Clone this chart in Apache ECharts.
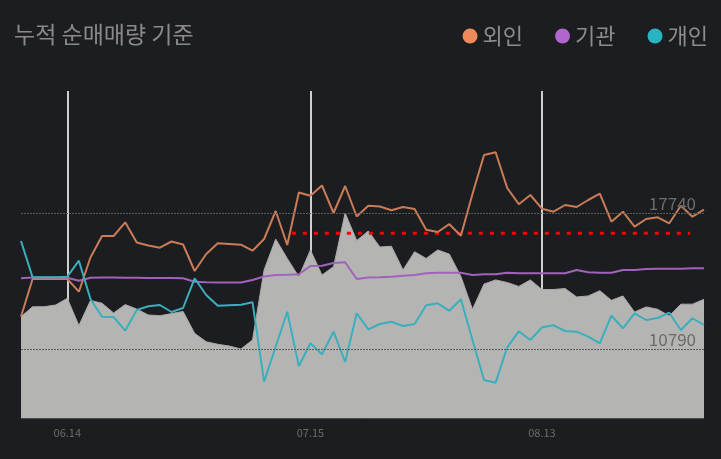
<!DOCTYPE html>
<html>
<head>
<meta charset="utf-8">
<style>
html,body{margin:0;padding:0;background:#1c1d21;}
#chart{width:721px;height:459px;}
</style>
<script src="https://cdn.jsdelivr.net/npm/echarts@6/dist/echarts.min.js"></script>
</head>
<body>
<div id="chart"></div>
<script>
// categories (trading days)
const dates = ['06.10','06.11','06.12','06.13','06.14','06.17','06.18','06.19','06.20','06.21',
  '06.24','06.25','06.26','06.27','06.28','07.01','07.02','07.03','07.04','07.05',
  '07.08','07.09','07.10','07.11','07.12','07.15','07.16','07.17','07.18','07.19',
  '07.22','07.23','07.24','07.25','07.26','07.29','07.30','07.31','08.01','08.02',
  '08.05','08.06','08.07','08.08','08.09','08.13','08.14','08.16','08.19','08.20',
  '08.21','08.22','08.23','08.26','08.27','08.28','08.29','08.30','09.02','09.03'];
const labelDates = ['06.14','07.15','08.13'];

// stock price (gray area)
const price = [12440,12950,12950,13040,13380,11990,13270,13130,12630,13060,
  12830,12530,12490,12600,12710,11590,11160,11030,10940,10790,
  11250,14830,16410,15420,14480,15850,14570,15000,17740,16330,
  16820,16000,16040,14830,15760,15420,15850,15640,14500,12820,
  14110,14320,14190,13990,14320,13830,13830,13880,13450,13500,
  13770,13280,13500,12680,12940,12820,12480,13080,13080,13330];

// cumulative net buying
const foreign = [101.3,139,139,139,139,126.3,160.5,182,182,195.7,
  175.5,172.5,170.3,176.5,173.5,147,164,174.7,174,173.3,
  167.3,179,207,173,225.5,222.3,232.5,205,232,201.5,
  212.3,211.5,207.7,211,209,188.3,186,193.8,182.3,224,
  263,265.7,230,213.8,223,209.3,206.3,213,211,218,
  224.3,196.3,206.3,191.3,199,200.7,194.7,212.3,201.3,208.3];
const institution = [139.7,140.5,140.5,140.5,140.3,137.3,140.3,140.5,140.5,140.3,
  140.3,140,140,140,139.7,136.3,135.7,135.5,135.5,135.5,
  138,141.5,143,143.2,143.7,152,152.3,155,155.7,139,
  140.5,140.7,141.3,142.3,143,144.7,145.3,145.3,145.3,143,
  143.7,143.7,145.3,144.7,144.7,144.7,144.7,144.7,148,145.7,
  145.3,145.3,148,148,149,149.3,149.3,149.3,149.7,149.7];
const individual = [177,140.7,140.7,140.7,141.3,157.3,119,101.3,101,87.3,
  108,111.7,113,106,110,139.7,123,112.2,112.8,113.3,
  115.7,36.3,71.3,106.3,52,74.7,63.7,86.3,56,104.7,
  88.7,94,96.3,92,94,112.7,114.7,107.2,118.7,78,
  38,35.3,70.7,86.7,78,90.7,92.7,87,86.3,81.3,
  74.7,102.3,89.7,104.7,98,100,105.3,88,99.7,93];

// red dotted reference level
const refLevel = 16700;
const refRange = [23.4, 57.8];

const chart = echarts.init(document.getElementById('chart'));
const font = "'Noto Sans CJK KR', 'Noto Sans', sans-serif";
const showIdx = (i, v) => labelDates.indexOf(v) >= 0;

chart.setOption({
  backgroundColor: '#1c1d21',
  animation: false,
  title: {
    text: '누적 순매매량 기준', left: 9, top: 18,
    textStyle: {color: '#8a8a8a', fontSize: 23, fontWeight: 'normal', fontFamily: font}
  },
  legend: {
    data: ['외인','기관','개인'], right: 8, top: 20, icon: 'circle',
    itemWidth: 15, itemHeight: 15, itemGap: 32,
    textStyle: {color: '#8c8c8c', fontSize: 22, fontFamily: font}
  },
  grid: {left: 21, right: 17, top: 91, bottom: 41},
  xAxis: [{
    type: 'category', data: dates, boundaryGap: false,
    axisLine: {show: true, lineStyle: {color: '#4a4b4c', width: 1}},
    axisTick: {show: false},
    axisLabel: {interval: showIdx, color: '#6c6c6c', fontSize: 11, margin: 9, fontFamily: font},
    splitLine: {show: true, interval: showIdx, lineStyle: {color: '#cfcfcf', width: 2}}
  }, {
    type: 'value', min: 0, max: dates.length - 1, show: false
  }],
  yAxis: [{
    type: 'value', min: 7264, max: 23974, show: false, splitLine: {show: false}
  }, {
    type: 'value', min: 0, max: 327, show: false, splitLine: {show: false}
  }],
  series: [{
    name: '주가', type: 'line', data: price, yAxisIndex: 0, xAxisIndex: 0,
    symbol: 'none', z: 1,
    lineStyle: {color: '#a9aaa8', width: 1},
    areaStyle: {color: '#b4b5b3', opacity: 1},
    markLine: {
      silent: true, symbol: 'none',
      lineStyle: {color: '#595a5c', type: [2,1], width: 1},
      label: {position: 'insideEndTop', color: '#6c6c6c', fontSize: 17, fontFamily: font, distance: [8, 1]},
      data: [{type: 'max'}, {type: 'min'}]
    }
  }, {
    name: 'ref', type: 'line', xAxisIndex: 1, yAxisIndex: 0, symbol: 'none', z: 3,
    data: [[refRange[0], refLevel], [refRange[1], refLevel]],
    lineStyle: {color: '#ff0000', width: 3, type: [4, 7]}
  }, {
    name: '외인', type: 'line', data: foreign, yAxisIndex: 1, symbol: 'none', z: 4,
    itemStyle: {color: '#ec8a5c'}, lineStyle: {color: '#c97c55', width: 2}
  }, {
    name: '기관', type: 'line', data: institution, yAxisIndex: 1, symbol: 'none', z: 4,
    itemStyle: {color: '#b066cc'}, lineStyle: {color: '#a262bc', width: 2}
  }, {
    name: '개인', type: 'line', data: individual, yAxisIndex: 1, symbol: 'none', z: 4,
    itemStyle: {color: '#29b3c3'}, lineStyle: {color: '#3aaebd', width: 2}
  }]
});
</script>
</body>
</html>
